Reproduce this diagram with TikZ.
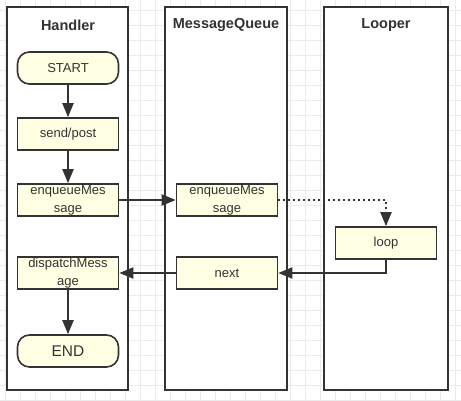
\documentclass[tikz,border=0pt]{standalone}
\usepackage{fontspec}
\setmainfont{Liberation Sans}
\usetikzlibrary{arrows.meta}
\definecolor{ink}{HTML}{333333}
\definecolor{cream}{HTML}{FFFFE3}
\definecolor{gridgray}{HTML}{EBEBEB}
\tikzset{
  lane/.style={draw=ink, line width=2pt, fill=white},
  title/.style={text=ink, font=\fontsize{14.5}{16}\selectfont\bfseries},
  stepbox/.style={draw=ink, line width=1.6pt, fill=cream, text=ink,
    minimum width=101pt, minimum height=32pt, inner sep=0pt, align=center,
    font=\fontsize{13}{18}\selectfont},
  terminal/.style={stepbox, rounded corners=12pt},
  flow/.style={draw=ink, line width=2pt, -{Triangle[length=14pt,width=11pt]}},
}
\begin{document}
\begin{tikzpicture}[x=1pt,y=-1pt]
\useasboundingbox (0,0) rectangle (461,400);
% background grid
\foreach \gx in {5,20,...,455} \draw[gridgray, line width=0.7pt] (\gx,0) -- (\gx,400);
\foreach \gy in {10,25,...,400} \draw[gridgray, line width=0.7pt] (0,\gy) -- (461,\gy);
% lanes
\draw[lane] (7,7) rectangle (128,390);
\draw[lane] (165,7) rectangle (287,390);
\draw[lane] (324,7) rectangle (448,390);
\node[title] (handler) at (68,25) {Handler};
\node[title] (queue) at (226,25) {MessageQueue};
\node[title] (looper) at (386,25) {Looper};
% steps
\node[terminal] (start) at (68,68) {START};
\node[stepbox] (send) at (68,134) {send/post};
\node[stepbox] (henq) at (68,200) {enqueueMes\\sage};
\node[stepbox] (dispatch) at (68,273) {dispatchMess\\age};
\node[terminal, font=\fontsize{15.5}{17}\selectfont] (end) at (68,351) {END};
\node[stepbox] (qenq) at (227,200) {enqueueMes\\sage};
\node[stepbox] (next) at (227,273) {next};
\node[stepbox] (loop) at (386,243) {loop};
% connectors
\path[flow] (start) -- (send);
\path[flow] (send) -- (henq);
\path[flow] (dispatch) -- (end);
\path[flow] (henq) -- (qenq);
\path[flow, dash pattern=on 2pt off 3pt] (qenq.east) -| (loop.north);
\path[flow] (loop.south) |- (next.east);
\path[flow] (next) -- (dispatch);
\end{tikzpicture}
\end{document}
